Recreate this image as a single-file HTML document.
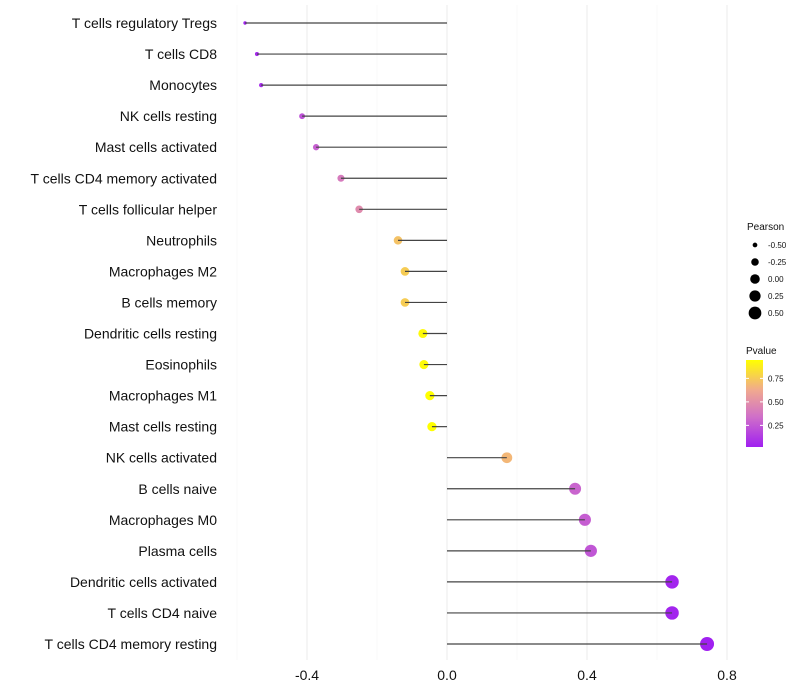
<!DOCTYPE html>
<html><head><meta charset="utf-8"><style>
body{margin:0;background:#fff;font-family:"Liberation Sans",sans-serif;}
svg{display:block}
</style></head><body>
<svg id="chart" width="800" height="700">
<g id="grid"></g><g id="points"></g><g id="marks"></g><g id="labels"></g><g id="legend"></g>
<defs><linearGradient id="pg" x1="0" y1="1" x2="0" y2="0">
<stop offset="0" stop-color="#a020f0"/><stop offset="0.35" stop-color="#d070c8"/><stop offset="0.65" stop-color="#f0a890"/><stop offset="1" stop-color="#ffff00"/>
</linearGradient></defs>
</svg>
<script>
const categories=["T cells regulatory  Tregs","T cells CD8","Monocytes","NK cells resting","Mast cells activated","T cells CD4 memory activated","T cells follicular helper","Neutrophils","Macrophages M2","B cells memory","Dendritic cells resting","Eosinophils","Macrophages M1","Mast cells resting","NK cells activated","B cells naive","Macrophages M0","Plasma cells","Dendritic cells activated","T cells CD4 naive","T cells CD4 memory resting"];
const pearson=[-0.577,-0.543,-0.531,-0.414,-0.374,-0.303,-0.251,-0.14,-0.12,-0.12,-0.069,-0.066,-0.049,-0.043,0.171,0.366,0.394,0.411,0.643,0.643,0.743];
const pvalue=[0.02,0.05,0.06,0.22,0.28,0.4,0.48,0.72,0.76,0.76,0.93,0.93,0.97,0.98,0.68,0.3,0.27,0.24,0.04,0.04,0.01];
const xTicks=[-0.4,0,0.4,0.8];
const xTickLabels=["-0.4","0.0","0.4","0.8"];
const minorTicks=[-0.6,-0.2,0.2,0.6];
const sizeBreaks=[-0.5,-0.25,0,0.25,0.5];
const sizeLabels=["-0.50","-0.25","0.00","0.25","0.50"];
const colorTicks=[0.75,0.5,0.25];

const NS="http://www.w3.org/2000/svg";
const x=v=>447+v*350;
const y=i=>23+i*31.05;
const r=v=>Math.sqrt(Math.max(1,23+34.8*v));
function lerp(a,b,t){return a.map((c,i)=>Math.round(c+(b[i]-c)*t));}
const stops=[[0,[160,32,240]],[0.35,[208,112,200]],[0.65,[240,168,144]],[1,[255,255,0]]];
function col(p){p=Math.max(0,Math.min(1,(p-0.02)/0.93));for(let i=1;i<stops.length;i++){if(p<=stops[i][0]){const t=(p-stops[i-1][0])/(stops[i][0]-stops[i-1][0]);return"rgb("+lerp(stops[i-1][1],stops[i][1],t).join(",")+")";}}return"rgb(255,255,0)";}
function mk(tag,attrs,parent,txt){const e=document.createElementNS(NS,tag);for(const k in attrs)e.setAttribute(k,attrs[k]);if(txt!==undefined)e.textContent=txt;parent.appendChild(e);return e;}
const grid=document.getElementById('grid'),points=document.getElementById('points'),marks=document.getElementById('marks'),labels=document.getElementById('labels'),legend=document.getElementById('legend');
minorTicks.forEach(t=>{const l=mk('line',{x1:x(t),x2:x(t),y1:5,y2:660,stroke:'#f4f4f4','stroke-width':0.6},grid);

});
xTicks.forEach((t,i)=>{const l=mk('line',{x1:x(t),x2:x(t),y1:5,y2:660,stroke:'#ebebeb','stroke-width':1},grid);


const tx=mk('text',{x:x(t),y:680,'text-anchor':'middle','font-size':14,fill:'#111'},labels,xTickLabels[i]);

});
categories.forEach((c,i)=>{
const ci=mk('circle',{cx:x(pearson[i]),cy:y(i),r:r(pearson[i]),fill:col(pvalue[i])},points);


const l=mk('line',{x1:x(0),x2:x(pearson[i]),y1:y(i),y2:y(i),stroke:'#444','stroke-width':1.2},marks);


const t=mk('text',{x:217,y:y(i)+5,'text-anchor':'end','font-size':14,fill:'#111'},labels,c);

});
const lt=mk('text',{x:747,y:230,'font-size':10,fill:'#111'},legend,'Pearson');


sizeBreaks.forEach((s,i)=>{const cy=245+i*17;
const c=mk('circle',{cx:755,cy:cy,r:r(s),fill:'#000'},legend);


const t=mk('text',{x:768,y:cy+3,'font-size':8,fill:'#111'},legend,sizeLabels[i]);

});
const pt=mk('text',{x:746,y:354,'font-size':10,fill:'#111'},legend,'Pvalue');


const bar=mk('rect',{x:746,y:360,width:17,height:87,fill:'url(#pg)'},legend);


const cy=v=>447-(v-0.02)/0.25*23.5;
colorTicks.forEach(v=>{const t=mk('text',{x:768,y:cy(v)+3,'font-size':8,fill:'#111'},legend,v.toFixed(2));


mk('line',{x1:746,x2:749,y1:cy(v),y2:cy(v),stroke:'#fff'},legend);
mk('line',{x1:760,x2:763,y1:cy(v),y2:cy(v),stroke:'#fff'},legend);});
</script>
</body></html>
